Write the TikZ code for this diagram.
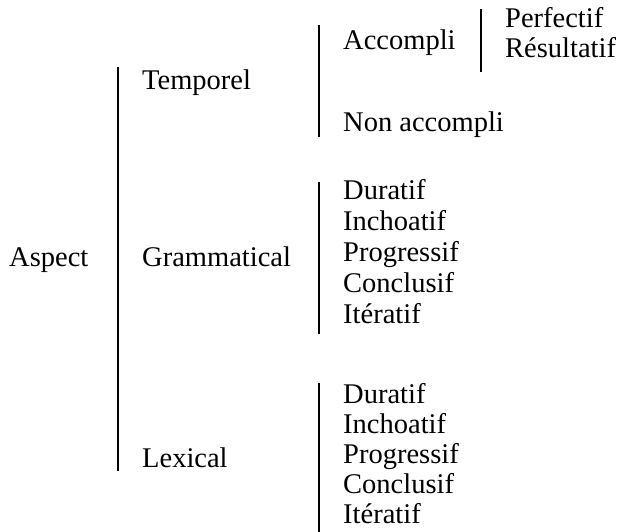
\documentclass[tikz,border=0pt]{standalone}
\usepackage{fontspec}
\setmainfont{Liberation Serif}
\begin{document}
\begin{tikzpicture}[x=1pt,y=1pt,
  lbl/.style={anchor=base west,inner sep=0pt,font=\fontsize{28.5}{31}\selectfont},
  bar/.style={line width=2.6pt}]
\useasboundingbox (0,0) rectangle (622,532);
% first level
\node[lbl] (aspect) at (9,265) {Aspect};
\coordinate (b1t) at (118,465);
\coordinate (b1b) at (118,61);
\draw[bar] (b1t) -- (b1b);
\node[lbl] (temporel) at (142,442) {Temporel};
\node[lbl] (gramm) at (142,265) {Grammatical};
\node[lbl] (lexical) at (142,64) {Lexical};
% temporel branch
\coordinate (b2t) at (319,507);
\coordinate (b2b) at (319,395);
\draw[bar] (b2t) -- (b2b);
\node[lbl] (accompli) at (343,482) {Accompli};
\node[lbl] (nonacc) at (343,400) {Non accompli};
\coordinate (b3t) at (481,523);
\coordinate (b3b) at (481,460);
\draw[bar] (b3t) -- (b3b);
\node[lbl] (perf) at (505,504) {Perfectif};
\node[lbl] (result) at (505,474) {Résultatif};
% grammatical branch
\coordinate (b4t) at (319,350);
\coordinate (b4b) at (319,198);
\draw[bar] (b4t) -- (b4b);
\node[lbl] (g1) at (343,332) {Duratif};
\node[lbl] (g2) at (343,301) {Inchoatif};
\node[lbl] (g3) at (343,270) {Progressif};
\node[lbl] (g4) at (343,239) {Conclusif};
\node[lbl] (g5) at (343,208) {Itératif};
% lexical branch
\coordinate (b5t) at (319,149);
\coordinate (b5b) at (319,0);
\draw[bar] (b5t) -- (b5b);
\node[lbl] (l1) at (343,128) {Duratif};
\node[lbl] (l2) at (343,98) {Inchoatif};
\node[lbl] (l3) at (343,68) {Progressif};
\node[lbl] (l4) at (343,38) {Conclusif};
\node[lbl] (l5) at (343,8) {Itératif};
\end{tikzpicture}
\end{document}
